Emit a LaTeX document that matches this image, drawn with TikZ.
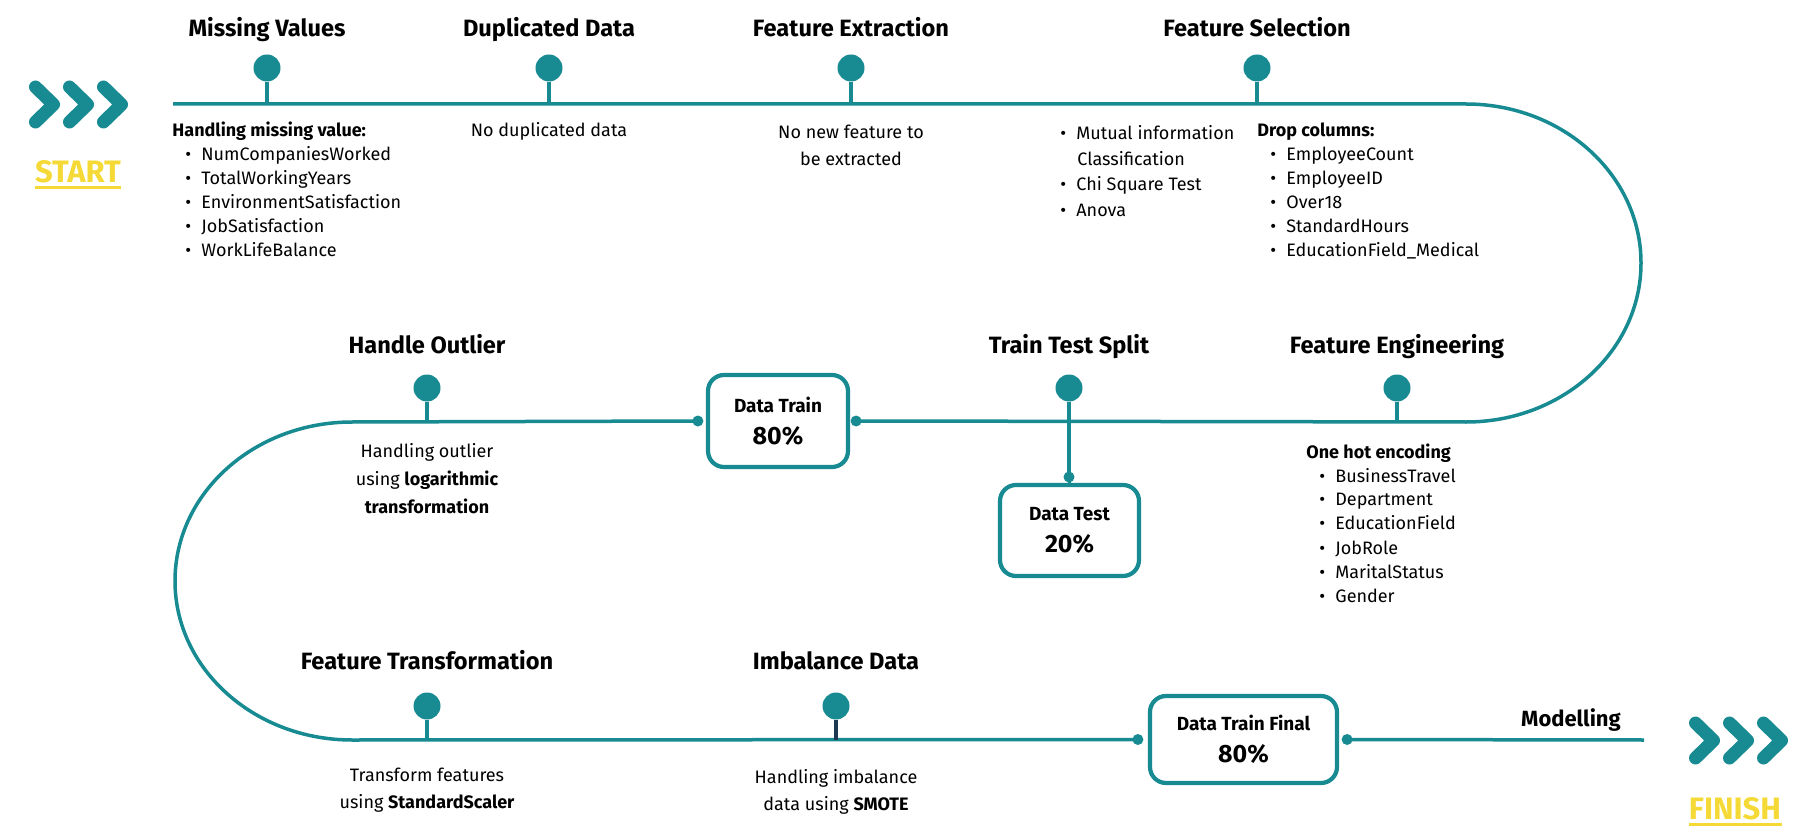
\documentclass[tikz,border=0pt]{standalone}
\usepackage{fontspec}
\setmainfont{Fira Sans}
\usetikzlibrary{calc}
\definecolor{pathteal}{RGB}{23,138,146}
\definecolor{stemnavy}{RGB}{31,56,82}
\definecolor{flagyellow}{RGB}{245,218,55}
% bullet item after a heading, and a bare bullet item
\newcommand\hitem[1]{\hspace*{6.5pt}\makebox[8pt][l]{\textbullet}#1}
\newcommand\bitem[1]{\makebox[8pt][l]{\textbullet}#1}
\begin{document}
\begin{tikzpicture}[x=0.5pt,y=-0.5pt,
  track/.style={draw=pathteal,line width=1.75pt},
  milestone/.style={circle,fill=pathteal,inner sep=0pt,minimum size=13.5pt},
  joint/.style={circle,fill=pathteal,inner sep=0pt,minimum size=5.5pt},
  stem/.style={draw=pathteal,line width=1.6pt},
  stagebox/.style={draw=pathteal,line width=2.1pt,rounded corners=8pt,fill=white,
    align=center,inner sep=0pt,font=\bfseries\fontsize{12.5}{16}\selectfont},
  title/.style={anchor=base,inner sep=0pt,font=\bfseries\fontsize{11.8}{14}\selectfont},
  body/.style={inner sep=0pt,font=\fontsize{9}{12}\selectfont},
  bodyc/.style={body,align=center,anchor=north},
  listing/.style={body,align=left,anchor=north west},
  chev/.style={draw=pathteal,line width=6.5pt,line cap=round,line join=round},
  flag/.style={anchor=base,inner sep=0pt,text=flagyellow,font=\bfseries\fontsize{15.5}{17}\selectfont},
  flagline/.style={draw=flagyellow,line width=1.5pt}
]
\useasboundingbox (0,0) rectangle (1810,834);

% ---- start and finish markers
\foreach \dx in {0,34,68}{
  \draw[chev] (35.5+\dx,87) -- (53.5+\dx,104.5) -- (35.5+\dx,122);
  \draw[chev] (1695.5+\dx,723) -- (1713.5+\dx,740.5) -- (1695.5+\dx,758);
}
\node[flag] (start) at (78,183) {START};
\draw[flagline] ($(start.base west)+(0,5)$) -- ($(start.base east)+(0,5)$);
\node[flag] (finish) at (1735,819) {FINISH};
\draw[flagline] ($(finish.base west)+(0,5)$) -- ($(finish.base east)+(0,5)$);

% ---- boxes on the track
\node[stagebox,minimum width=70pt,minimum height=46pt] (dtrain) at (778,421)
  {{\fontsize{9.5}{16}\selectfont Data Train}\\80\%};
\node[stagebox,minimum width=69.5pt,minimum height=45.5pt] (dtest) at (1069.5,530.5)
  {{\fontsize{9.5}{16}\selectfont Data Test}\\20\%};
\node[stagebox,minimum width=93.5pt,minimum height=43.5pt] (dfinal) at (1243.5,739.5)
  {{\fontsize{9.5}{16}\selectfont Data Train Final}\\80\%};

\node[joint] (jTl) at ($(dtrain.west)+(-8,0)$) {};
\node[joint] (jTr) at ($(dtrain.east)+(6,0)$) {};
\node[joint] (jFl) at ($(dfinal.west)+(-10,0)$) {};
\node[joint] (jFr) at ($(dfinal.east)+(8,0)$) {};
\node[joint] (jD) at (1069,477) {};

% ---- the track
\coordinate (l1s) at (173,104);
\coordinate (l1e) at (1466,104);
\coordinate (l2e) at (1466,422);
\coordinate (l2w) at (352,422);
\coordinate (l3w) at (352,740);
\coordinate (l3e) at (1644,740);
\draw[track] (l1s) -- (l1e)
  .. controls +(96.7,0) and +(0,-87.8) .. (1641,263)
  .. controls +(0,87.8) and +(96.7,0) .. (l2e) -- (jTr.center);
\draw[track] (jTl.center) -- (l2w)
  .. controls +(-97.8,0) and +(0,-87.8) .. (175,581)
  .. controls +(0,87.8) and +(-97.8,0) .. (l3w) -- (jFl.center);
\draw[track] (jFr.center) -- (l3e);

% ---- milestones
\node[milestone] (dMV) at (267,68) {};
\node[milestone] (dDD) at (549,68) {};
\node[milestone] (dFX) at (851,68) {};
\node[milestone] (dFS) at (1257,68) {};
\node[milestone] (dHO) at (427,388) {};
\node[milestone] (dTS) at (1069,388) {};
\node[milestone] (dFE) at (1397,388) {};
\node[milestone] (dFT) at (427,706) {};
\node[milestone] (dID) at (836,706) {};

\foreach \d in {dMV,dDD,dFX,dFS}{\draw[stem] (\d.south) -- (\d.south |- l1s);}
\foreach \d in {dHO,dFE}{\draw[stem] (\d.south) -- (\d.south |- l2e);}
\draw[stem] (dTS.south) -- (jD.center);
\draw[stem] (jD.center) -- (dtest.north);
\draw[stem] (dFT.south) -- (dFT.south |- l3w);
\draw[stem,draw=stemnavy] (dID.south) -- (dID.south |- l3w);

% ---- titles
\node[title] (tMV) at (267,37) {Missing Values};
\node[title] (tDD) at (549,37) {Duplicated Data};
\node[title] (tFX) at (851,37) {Feature Extraction};
\node[title] (tFS) at (1257,37) {Feature Selection};
\node[title] (tHO) at (427,353) {Handle Outlier};
\node[title] (tTS) at (1069,353) {Train Test Split};
\node[title] (tFE) at (1397,353) {Feature Engineering};
\node[title] (tFT) at (427,669) {Feature Transformation};
\node[title] (tID) at (836,669) {Imbalance Data};
\node[title,font=\bfseries\fontsize{11}{13}\selectfont] (tMO) at (1571,726) {Modelling};

% ---- descriptions
\node[listing] (xMV) at (172,122) {\textbf{Handling missing value:}\\
  \hitem{NumCompaniesWorked}\\ \hitem{TotalWorkingYears}\\
  \hitem{EnvironmentSatisfaction}\\ \hitem{JobSatisfaction}\\ \hitem{WorkLifeBalance}};
\node[bodyc] (xDD) at (549,122) {No duplicated data};
\node[bodyc,font=\fontsize{9}{13.5}\selectfont] (xFX) at (851,125) {No new feature to\\be extracted};
\node[listing,font=\fontsize{9}{12.8}\selectfont] (xFS) at (1060,125) {\bitem{Mutual information}\\
  \hspace*{8.5pt}Classification\\ \bitem{Chi Square Test}\\ \bitem{Anova}};
\node[listing] (xDC) at (1257,122) {\textbf{Drop columns:}\\
  \hitem{EmployeeCount}\\ \hitem{EmployeeID}\\ \hitem{Over18}\\
  \hitem{StandardHours}\\ \hitem{EducationField\_Medical}};
\node[bodyc,font=\fontsize{9}{14}\selectfont] (xHO) at (427,443)
  {Handling outlier\\using \textbf{logarithmic}\\\textbf{transformation}};
\node[listing] (xFE) at (1306,443) {\textbf{One hot encoding}\\
  \hitem{BusinessTravel}\\ \hitem{Department}\\ \hitem{EducationField}\\
  \hitem{JobRole}\\ \hitem{MaritalStatus}\\ \hitem{Gender}};
\node[bodyc,font=\fontsize{9}{13.5}\selectfont] (xFT) at (427,768)
  {Transform features\\using \textbf{StandardScaler}};
\node[bodyc,font=\fontsize{9}{13.5}\selectfont] (xID) at (836,769)
  {Handling imbalance\\data using \textbf{SMOTE}};
\end{tikzpicture}
\end{document}
